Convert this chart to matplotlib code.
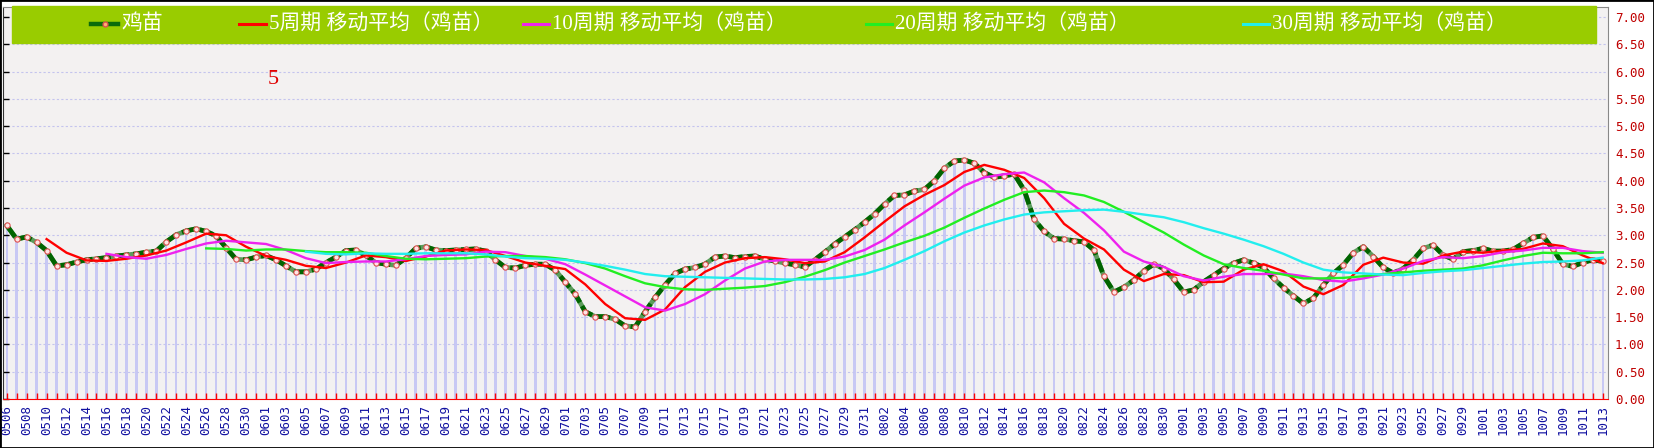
import numpy as np
import pandas as pd
import matplotlib
matplotlib.use('Agg')
import matplotlib.pyplot as plt
from matplotlib.patches import Rectangle
from matplotlib.lines import Line2D

W, H = 1654, 448

# one point per day, 0506 .. 1013
days = pd.date_range('2023-05-06', '2023-10-13', freq='D').strftime('%m%d').tolist()

# 鸡苗 price
price = [3.18, 2.93, 2.97, 2.87, 2.72, 2.44, 2.46, 2.51, 2.55, 2.57,
         2.59, 2.62, 2.64, 2.66, 2.69, 2.71, 2.88, 3.01, 3.08, 3.12,
         3.07, 2.99, 2.77, 2.56, 2.55, 2.60, 2.63, 2.55, 2.44, 2.33,
         2.33, 2.38, 2.50, 2.60, 2.72, 2.73, 2.63, 2.50, 2.47, 2.45,
         2.58, 2.76, 2.79, 2.73, 2.72, 2.73, 2.74, 2.75, 2.71, 2.55,
         2.41, 2.40, 2.45, 2.47, 2.47, 2.36, 2.14, 1.92, 1.60, 1.51,
         1.51, 1.46, 1.34, 1.32, 1.60, 1.86, 2.09, 2.30, 2.38, 2.41,
         2.47, 2.60, 2.62, 2.59, 2.61, 2.62, 2.56, 2.53, 2.49, 2.46,
         2.42, 2.55, 2.69, 2.84, 2.97, 3.10, 3.24, 3.39, 3.57, 3.73,
         3.74, 3.81, 3.84, 4.00, 4.23, 4.36, 4.38, 4.32, 4.15, 4.06,
         4.09, 4.12, 3.83, 3.29, 3.07, 2.94, 2.93, 2.90, 2.88, 2.73,
         2.25, 1.96, 2.05, 2.18, 2.35, 2.47, 2.39, 2.19, 1.96, 2.00,
         2.15, 2.27, 2.39, 2.49, 2.55, 2.49, 2.41, 2.21, 2.04, 1.89,
         1.75, 1.85, 2.09, 2.30, 2.46, 2.68, 2.79, 2.61, 2.41, 2.31,
         2.39, 2.55, 2.76, 2.82, 2.64, 2.56, 2.70, 2.72, 2.76, 2.71,
         2.71, 2.74, 2.85, 2.96, 2.99, 2.75, 2.47, 2.43, 2.50, 2.55,
         2.52]

# moving average lines, read on the labelled dates (every 2nd day)
ma5 = [None] * 2 + [
    2.93, 2.68, 2.54, 2.53, 2.57, 2.63, 2.72, 2.87, 3.03, 3.00,
    2.79, 2.62, 2.55, 2.44, 2.40, 2.50, 2.63, 2.60, 2.53, 2.61,
    2.72, 2.74, 2.73, 2.62, 2.50, 2.44, 2.38, 2.10, 1.74, 1.48,
    1.45, 1.64, 2.05, 2.33, 2.50, 2.58, 2.60, 2.56, 2.49, 2.52,
    2.69, 2.96, 3.25, 3.53, 3.74, 3.92, 4.16, 4.29, 4.20, 4.05,
    3.68, 3.21, 2.94, 2.74, 2.37, 2.16, 2.29, 2.27, 2.14, 2.15,
    2.37, 2.47, 2.34, 2.06, 1.92, 2.09, 2.46, 2.59, 2.50, 2.48,
    2.63, 2.70, 2.68, 2.72, 2.75, 2.85, 2.80, 2.63, 2.49]
ma10 = [None] * 5 + [
    2.66, 2.60, 2.57, 2.64, 2.75, 2.85, 2.90, 2.87, 2.84, 2.73,
    2.58, 2.49, 2.51, 2.52, 2.52, 2.56, 2.62, 2.64, 2.65, 2.70,
    2.69, 2.62, 2.57, 2.47, 2.28, 2.08, 1.88, 1.68, 1.62, 1.74,
    1.92, 2.17, 2.39, 2.52, 2.55, 2.55, 2.55, 2.61, 2.73, 2.92,
    3.18, 3.42, 3.67, 3.91, 4.06, 4.12, 4.15, 3.97, 3.68, 3.41,
    3.09, 2.70, 2.52, 2.42, 2.25, 2.17, 2.24, 2.29, 2.29, 2.30,
    2.25, 2.18, 2.15, 2.21, 2.28, 2.39, 2.53, 2.60, 2.58, 2.62,
    2.69, 2.72, 2.77, 2.77, 2.71, 2.68]
ma20 = [None] * 10 + [
    2.76, 2.75, 2.72, 2.74, 2.74, 2.71, 2.69, 2.69, 2.68, 2.62,
    2.57, 2.56, 2.57, 2.58, 2.61, 2.62, 2.62, 2.60, 2.56, 2.49,
    2.39, 2.25, 2.12, 2.05, 2.01, 2.00, 2.02, 2.04, 2.07, 2.14,
    2.24, 2.36, 2.50, 2.62, 2.74, 2.87, 2.99, 3.14, 3.32, 3.49,
    3.65, 3.79, 3.82, 3.79, 3.73, 3.61, 3.43, 3.24, 3.05, 2.83,
    2.63, 2.47, 2.40, 2.35, 2.28, 2.21, 2.21, 2.22, 2.25, 2.29,
    2.32, 2.35, 2.37, 2.39, 2.45, 2.54, 2.62, 2.68, 2.67, 2.67,
    2.69]
ma30 = [None] * 15 + [
    2.70, 2.66, 2.65, 2.67, 2.66, 2.66, 2.67, 2.67, 2.67, 2.65,
    2.61, 2.58, 2.57, 2.55, 2.50, 2.44, 2.37, 2.29, 2.25, 2.24,
    2.23, 2.22, 2.21, 2.20, 2.19, 2.19, 2.20, 2.23, 2.29, 2.40,
    2.55, 2.71, 2.89, 3.05, 3.18, 3.29, 3.38, 3.42, 3.44, 3.46,
    3.47, 3.43, 3.38, 3.33, 3.24, 3.13, 3.03, 2.92, 2.80, 2.66,
    2.50, 2.37, 2.32, 2.30, 2.28, 2.27, 2.31, 2.34, 2.36, 2.40,
    2.44, 2.48, 2.51, 2.52, 2.54, 2.59]

series_names = ['鸡苗', '5周期 移动平均（鸡苗）', '10周期 移动平均（鸡苗）',
                '20周期 移动平均（鸡苗）', '30周期 移动平均（鸡苗）']
ma_colors = ['#ff0000', '#ee22ee', '#22ee22', '#22eeee']

fig = plt.figure(figsize=(W / 100, H / 100), dpi=100)
fig.patch.set_facecolor('white')

def fx(x):
    return x / W

def fy(y):
    return 1 - y / H

# plot area in pixels: x 3..1608, y 7..399
ax = fig.add_axes([fx(3), fy(399), 1605 / W, 392 / H])
ax.set_facecolor('#f3f1f1')

x = np.arange(len(days))
x2 = x[::2]

ax.bar(x, price, width=0.24, color='#c8c8f4', zorder=1)

# main series: dark green dashes over a lighter green line, small ringed dots
ax.plot(x, price, color='#5c9c5c', lw=3.4, zorder=3)
ax.plot(x, price, color='#006400', lw=3.4, ls=(0, (3, 0.9)), zorder=3.1,
        marker='o', ms=3.8, mfc='#ffe4e4', mec='#e05050', mew=0.8)
for vals, c in zip([ma5, ma10, ma20, ma30], ma_colors):
    ax.plot(x2, np.array(vals, dtype=float), color=c, lw=1.7, zorder=4)

ax.set_xlim(-0.371, 160.53)
ax.set_ylim(0, 7.183)

ax.set_yticks(np.arange(0, 7.01, 0.5))
ax.set_yticklabels(['%.2f' % v for v in np.arange(0, 7.01, 0.5)])
ax.yaxis.grid(True, color='#c4c4ee', linestyle=(0, (2, 2)), lw=0.8, zorder=2)
ax.tick_params(axis='y', left=True, right=False, labelleft=False, labelright=True,
               direction='in', length=4, width=1, color='black', pad=5,
               labelcolor='#c00000', labelsize=9)
for t in ax.get_yticklabels():
    t.set_family('DejaVu Sans Mono')

ax.set_xticks(x)
ax.set_xticklabels([d if i % 2 == 0 else '' for i, d in enumerate(days)],
                   rotation=90, family='DejaVu Sans Mono', fontsize=9, color='#1010a0')
ax.tick_params(axis='x', direction='in', length=4, width=1, color='#ff0000', pad=4)

ax.spines['bottom'].set_color('#ff0000')
ax.spines['left'].set_color('#333333')
ax.spines['right'].set_color('#888888')
ax.spines['top'].set_color('#888888')

# legend bar across the top
fig.patches.append(Rectangle((fx(12), fy(43)), (1596 - 12) / W, 37 / H,
                             transform=fig.transFigure, color='#99cc00', zorder=10))
leg_swatch = [(91, 118), (239, 266), (523, 549), (866, 892), (1243, 1269)]
leg_y = 24.5
for i, (name, (s0, s1)) in enumerate(zip(series_names, leg_swatch)):
    if i == 0:
        fig.add_artist(Line2D([fx(s0), fx(s1)], [fy(leg_y)] * 2, transform=fig.transFigure,
                              color='#0b6b0b', lw=3.2, zorder=11))
        fig.add_artist(Line2D([fx((s0 + s1) / 2)], [fy(leg_y)], transform=fig.transFigure,
                              marker='o', ms=3.5, mfc='#ffb070', mec='#e05050', zorder=12))
    else:
        fig.add_artist(Line2D([fx(s0), fx(s1)], [fy(leg_y)] * 2, transform=fig.transFigure,
                              color=ma_colors[i - 1], lw=2.2, zorder=11))
    fig.text(fx(s1 + 3), fy(leg_y), name, color='white', fontsize=15, va='center', ha='left',
             family=['Liberation Serif', 'Noto Sans CJK SC'], zorder=12)

fig.text(fx(273), fy(80), '5', color='#e00000', fontsize=16, ha='center', va='center',
         family='Liberation Serif')

# thin black frame round the whole picture
fig.patches.append(Rectangle((0, 0), 1, 1, transform=fig.transFigure, fill=False,
                             edgecolor='black', lw=2, zorder=20))

fig.savefig('out.png', dpi=100)
